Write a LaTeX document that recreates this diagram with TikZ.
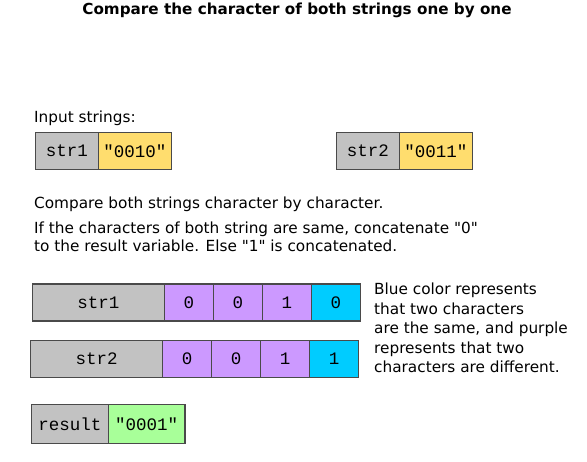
\documentclass[tikz,border=0pt]{standalone}
\usepackage{fontspec}
\setmainfont{DejaVu Sans}[Ligatures=TeXOff]
\setmonofont{Liberation Mono}
\usetikzlibrary{positioning}

\definecolor{namegray}{HTML}{C2C2C2}
\definecolor{stryellow}{HTML}{FFDD6E}
\definecolor{diffpurple}{HTML}{CC99FF}
\definecolor{samecyan}{HTML}{00CCFF}
\definecolor{resgreen}{HTML}{A8FF99}
\definecolor{edge}{HTML}{4A4A4A}

\tikzset{
	box/.style={draw=edge,line width=1.3pt,inner sep=0pt,outer sep=0pt,
		minimum height=37pt,font=\ttfamily\fontsize{17.5}{17.5}\selectfont},
	namebox/.style={box,fill=namegray},
	valbox/.style={box,fill=stryellow},
	charbox/.style={box,minimum width=49pt},
	txt/.style={anchor=base west,inner sep=0pt,font=\fontsize{15.3}{18}\selectfont}
}

\begin{document}
\begin{tikzpicture}[x=1pt,y=-1pt]
	\useasboundingbox (0,0) rectangle (587,462);

	\node[anchor=base,inner sep=0pt,font=\bfseries\fontsize{15.2}{16}\selectfont] (title) at (297,14.7)
		{Compare the character of both strings one by one};

	% input strings
	\node[txt] (input) at (34,123) {Input strings:};
	\node[namebox,minimum width=63pt,anchor=north west] (s1name) at (35.3,132.3) {str1};
	\node[valbox,minimum width=73pt,right=0pt of s1name] (s1val) {"0010"};
	\node[namebox,minimum width=63pt,anchor=north west] (s2name) at (336.3,132.3) {str2};
	\node[valbox,minimum width=73pt,right=0pt of s2name] (s2val) {"0011"};

	% explanation
	\node[txt] (cmp) at (34,209) {Compare both strings character by character.};
	\node[txt] (rule1) at (34,234) {If the characters of both string are same, concatenate "0"};
	\node[txt] (rule2) at (34,252) {to the result variable. Else "1" is concatenated.};

	% character by character
	\node[namebox,minimum width=132pt,anchor=north west] (r1name) at (32.3,284) {str1};
	\node[charbox,fill=diffpurple,right=0pt of r1name] (r1c1) {0};
	\node[charbox,fill=diffpurple,right=0pt of r1c1] (r1c2) {0};
	\node[charbox,fill=diffpurple,right=0pt of r1c2] (r1c3) {1};
	\node[charbox,fill=samecyan,right=0pt of r1c3] (r1c4) {0};

	\node[namebox,minimum width=132pt,anchor=north west] (r2name) at (30.7,340.5) {str2};
	\node[charbox,fill=diffpurple,right=0pt of r2name] (r2c1) {0};
	\node[charbox,fill=diffpurple,right=0pt of r2c1] (r2c2) {0};
	\node[charbox,fill=diffpurple,right=0pt of r2c2] (r2c3) {1};
	\node[charbox,fill=samecyan,right=0pt of r2c3] (r2c4) {1};

	\foreach \line [count=\i] in {Blue color represents,that two characters,
		{are the same, and purple},represents that two,characters are different.}
		\node[txt] (leg\i) at (374,275.5+19.5*\i) {\line};

	% result
	\node[namebox,minimum width=76.6pt,anchor=north west,minimum height=38.6pt] (resname) at (31.7,404.7) {result};
	\node[box,fill=resgreen,minimum width=76.7pt,minimum height=38.6pt,right=0pt of resname] (resval) {"0001"};
\end{tikzpicture}
\end{document}
